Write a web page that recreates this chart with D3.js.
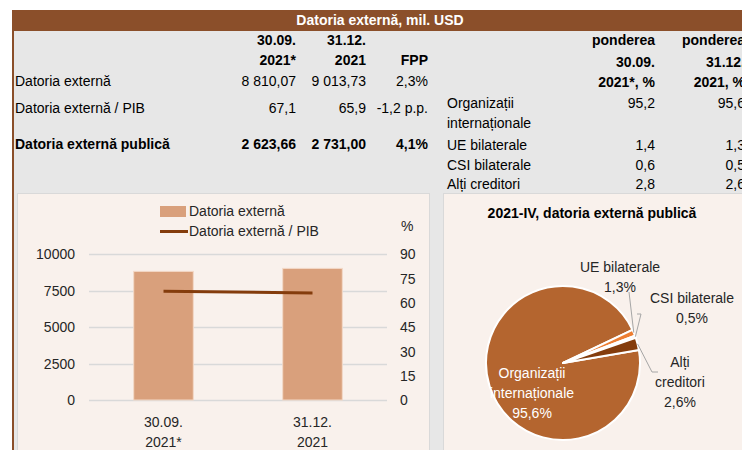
<!DOCTYPE html>
<html>
<head>
<meta charset="utf-8">
<style>
    body { margin: 0; background: #fff; }
    svg { display: block; font-family: "Liberation Sans", Arial, sans-serif; }
    .tbl { font-size: 14px; fill: #000; }
    .bold { font-weight: bold; }
    .axis text { font-size: 14px; fill: #262626; }
</style>
</head>
<body>
<script src="https://cdn.jsdelivr.net/npm/d3@7"></script>
<script>
// ---- data ----
var tableTitle = "Datoria externă, mil. USD";
var leftHeader = [["30.09.", "2021*"], ["31.12.", "2021"], ["", "FPP"]];
var leftRows = ["Datoria externă", "Datoria externă / PIB", "Datoria externă publică"];
var leftValues = [
    ["8 810,07", "9 013,73", "2,3%"],
    ["67,1", "65,9", "-1,2 p.p."],
    ["2 623,66", "2 731,00", "4,1%"]
];
var rightHeader = [["ponderea", "30.09.", "2021*, %"], ["ponderea", "31.12.", "2021, %"]];
var creditors = ["Organizații internaționale", "UE bilaterale", "CSI bilaterale", "Alți creditori"];
var share0921 = [95.2, 1.4, 0.6, 2.8];
var share1221 = [95.6, 1.3, 0.5, 2.6];

var dates = ["30.09. 2021*", "31.12. 2021"];
var datoriaExterna = [8810.07, 9013.73];
var datoriaPib = [67.1, 65.9];
var leftTicks = [0, 2500, 5000, 7500, 10000];
var rightTicks = [0, 15, 30, 45, 60, 75, 90];

var pieTitle = "2021-IV, datoria externă publică";

var fmt = function (v) { return String(v).replace(".", ","); };

// ---- layout ----
var width = 742, height = 450;
var svg = d3.select("body").append("svg").attr("width", width).attr("height", height);

svg.append("rect").attr("x", 12).attr("y", 10).attr("width", 740).attr("height", 450).attr("fill", "#8b4f2a");
svg.append("rect").attr("x", 14).attr("y", 31).attr("width", 740).attr("height", 450).attr("fill", "#e7e7e7");
svg.append("text").attr("x", 380).attr("y", 25).attr("text-anchor", "middle")
    .attr("fill", "#fff").attr("class", "bold").style("font-size", "14px").text(tableTitle);

// left table
var colRight = [296, 366, 428];
var headY = [45, 65];
leftHeader.forEach(function (h, i) {
    h.forEach(function (t, j) {
        svg.append("text").attr("class", "tbl bold").attr("x", colRight[i]).attr("y", headY[j])
            .attr("text-anchor", "end").text(t);
    });
});
var rowY = [86, 113, 149];
leftRows.forEach(function (r, i) {
    var b = i === 2 ? "tbl bold" : "tbl";
    svg.append("text").attr("class", b).attr("x", 15).attr("y", rowY[i]).text(r);
    leftValues[i].forEach(function (v, j) {
        svg.append("text").attr("class", b).attr("x", colRight[j]).attr("y", rowY[i])
            .attr("text-anchor", "end").text(v);
    });
});

// right table (last column runs off the edge, as in the source)
var rColRight = [655, 745];
var rHeadY = [45, 67, 87];
rightHeader.forEach(function (h, i) {
    h.forEach(function (t, j) {
        svg.append("text").attr("class", "tbl bold").attr("x", rColRight[i]).attr("y", rHeadY[j])
            .attr("text-anchor", "end").text(t);
    });
});
var rRowY = [108, 150, 170, 189];
creditors.forEach(function (c, i) {
    if (i === 0) {
        svg.append("text").attr("class", "tbl").attr("x", 447).attr("y", rRowY[i]).text("Organizații");
        svg.append("text").attr("class", "tbl").attr("x", 447).attr("y", rRowY[i] + 20).text("internaționale");
    } else {
        svg.append("text").attr("class", "tbl").attr("x", 447).attr("y", rRowY[i]).text(c);
    }
    [share0921[i], share1221[i]].forEach(function (v, j) {
        svg.append("text").attr("class", "tbl").attr("x", rColRight[j]).attr("y", rRowY[i])
            .attr("text-anchor", "end").text(fmt(v));
    });
});

// panels
svg.append("rect").attr("x", 17.5).attr("y", 193.5).attr("width", 412).attr("height", 280)
    .attr("fill", "#f9f1ec").attr("stroke", "#d9d9d9");
svg.append("rect").attr("x", 443.5).attr("y", 193.5).attr("width", 310).attr("height", 280)
    .attr("fill", "#f9f1ec").attr("stroke", "#d9d9d9");

// ---- combo chart ----
var barColor = "#d9a07c", lineColor = "#843c0c";
var x = d3.scaleBand().domain(dates).range([89, 387]).paddingInner(0.6).paddingOuter(0.3);
var yL = d3.scaleLinear().domain([0, 10000]).range([400, 254]);
var yR = d3.scaleLinear().domain([0, 90]).range([400, 254]);

svg.append("g").selectAll("line").data(leftTicks).enter().append("line")
    .attr("x1", 89).attr("x2", 387)
    .attr("y1", function (d) { return Math.round(yL(d)) + 0.5; })
    .attr("y2", function (d) { return Math.round(yL(d)) + 0.5; })
    .attr("stroke", "#d9d9d9").attr("stroke-width", 1.5);

var axL = svg.append("g").attr("class", "axis").attr("transform", "translate(80,0)")
    .call(d3.axisLeft(yL).tickValues(leftTicks).tickFormat(d3.format("d")).tickSize(0).tickPadding(5));
axL.select(".domain").remove();
var axR = svg.append("g").attr("class", "axis").attr("transform", "translate(395,0)")
    .call(d3.axisRight(yR).tickValues(rightTicks).tickFormat(d3.format("d")).tickSize(0).tickPadding(5));
axR.select(".domain").remove();
axL.selectAll("text").attr("dy", "0.35em");
axR.selectAll("text").attr("dy", "0.35em");

svg.append("g").selectAll("rect").data(datoriaExterna).enter().append("rect")
    .attr("x", function (d, i) { return x(dates[i]); })
    .attr("y", function (d) { return yL(d); })
    .attr("width", x.bandwidth())
    .attr("height", function (d) { return yL(0) - yL(d); })
    .attr("fill", barColor).attr("stroke", "#f3d9c7").attr("stroke-width", 1);

var line = d3.line()
    .x(function (d, i) { return x(dates[i]) + x.bandwidth() / 2; })
    .y(function (d) { return yR(d); });
svg.append("path").datum(datoriaPib).attr("d", line)
    .attr("fill", "none").attr("stroke", lineColor).attr("stroke-width", 3);

var xl = svg.append("g").attr("class", "axis");
dates.forEach(function (d) {
    var parts = d.split(" ");
    parts.forEach(function (p, j) {
        xl.append("text").attr("x", x(d) + x.bandwidth() / 2).attr("y", 427 + j * 20)
            .attr("text-anchor", "middle").text(p);
    });
});

// legend
var lg = svg.append("g").attr("class", "axis");
lg.append("rect").attr("x", 160).attr("y", 206).attr("width", 26).attr("height", 11).attr("fill", barColor);
lg.append("text").attr("x", 189).attr("y", 216).text("Datoria externă");
lg.append("line").attr("x1", 160).attr("x2", 188).attr("y1", 231.5).attr("y2", 231.5)
    .attr("stroke", lineColor).attr("stroke-width", 3);
lg.append("text").attr("x", 189).attr("y", 236).text("Datoria externă / PIB");
lg.append("text").attr("x", 401).attr("y", 231).text("%");

// ---- pie ----
var cx = 563, cy = 363, r = 77;
var pieColors = ["#b4652f", "#ed7d31", "#fdf3ea", "#843c0c"];
var a0 = 80.3 * Math.PI / 180;
var pie = d3.pie().sort(null).startAngle(a0).endAngle(a0 + 2 * Math.PI);
var arcs = pie(share1221);
var arc = d3.arc().innerRadius(0).outerRadius(r);
var pg = svg.append("g").attr("transform", "translate(" + cx + "," + cy + ")");
pg.selectAll("path").data(arcs).enter().append("path")
    .attr("d", arc)
    .attr("fill", function (d, i) { return pieColors[i]; })
    .attr("stroke", "#fff").attr("stroke-width", 2).attr("stroke-linejoin", "round");

svg.append("text").attr("x", 592).attr("y", 218).attr("text-anchor", "middle")
    .attr("class", "bold").style("font-size", "14px").attr("fill", "#000").text(pieTitle);

// label layout (offsets from pie centre) and leader line ends
var labelLines = [
    ["Organizații", "internaționale"],
    ["UE bilaterale"],
    ["CSI bilaterale"],
    ["Alți", "creditori"]
];
var labelPos = [[-31, 15], [57, -91], [129, -60], [117, 4]];
var leaderEnd = [null, [66, -71], [[78, -49], [74, -49]], [[89, 9], [95, 9]]];

svg.append("g").selectAll("text").data(arcs).enter().append("g")
    .each(function (d, i) {
        var g = d3.select(this);
        var lines = labelLines[i].concat([fmt(share1221[i]) + "%"]);
        lines.forEach(function (t, j) {
            g.append("text").attr("x", cx + labelPos[i][0]).attr("y", cy + labelPos[i][1] + j * 20)
                .attr("text-anchor", "middle").style("font-size", "14px")
                .attr("fill", i === 0 ? "#fff" : "#262626").text(t);
        });
    });

var outer = d3.arc().innerRadius(r).outerRadius(r);
arcs.forEach(function (d, i) {
    if (!leaderEnd[i]) return;
    var p = outer.centroid(d);
    var pts = [[cx + p[0], cy + p[1]]];
    var e = leaderEnd[i];
    if (Array.isArray(e[0])) e.forEach(function (q) { pts.push([cx + q[0], cy + q[1]]); });
    else pts.push([cx + e[0], cy + e[1]]);
    svg.append("path").attr("d", d3.line()(pts)).attr("fill", "none")
        .attr("stroke", "#a6a6a6").attr("stroke-width", 1);
});
</script>
</body>
</html>
